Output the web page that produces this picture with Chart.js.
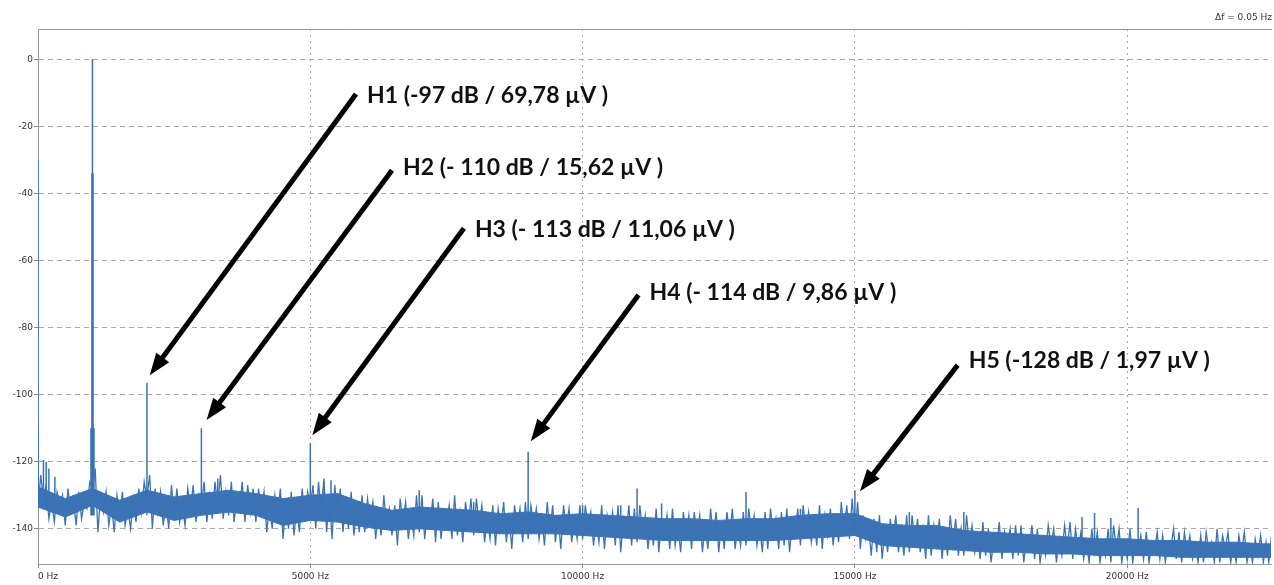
<!DOCTYPE html>
<html>
<head>
<meta charset="utf-8">
<title>Spectrum H1-H5</title>
<script src="https://cdn.jsdelivr.net/npm/chart.js@4.4.1/dist/chart.umd.min.js"></script>
<style>
  html, body { margin: 0; padding: 0; background: #fff; }
  canvas { display: block; }
</style>
</head>
<body>
<canvas id="spectrum" width="1274" height="585"></canvas>
<script>
// --- data ---
const xMaxHz = 22640;
const yMinDb = -150.5;
const yMaxDb = 9;
const xTickHz = [0, 5000, 10000, 15000, 20000];
const yTickDb = [-140, -120, -100, -80, -60, -40, -20, 0];

// noise floor, one value every 50 Hz
const noiseStepHz = 50;
const noiseDb = [
  -134,-124,-131,-127,-137,-132,-138,-129,-133,-130,-139,-128,-135,-131,-139,-129,-137,-132,-134,-126,
  -128,-122,-141,-130,-135,-129,-139,-133,-141,-130,-136,-129,-139,-134,-140,-131,-138,-128,-135,-126,
  -131,-124,-140,-128,-135,-129,-139,-132,-140,-127,-136,-128,-138,-133,-139,-128,-134,-127,-138,-130,
  -133,-126,-138,-130,-137,-126,-133,-124,-137,-129,-136,-126,-138,-131,-134,-126,-138,-127,-135,-128,
  -138,-128,-135,-129,-141,-133,-140,-130,-136,-128,-143,-131,-140,-129,-142,-134,-141,-128,-137,-129,
  -133,-127,-140,-126,-135,-125,-141,-130,-143,-127,-137,-128,-141,-132,-140,-129,-142,-134,-141,-130,
  -141,-131,-137,-132,-143,-135,-142,-130,-139,-134,-142,-133,-145,-131,-138,-132,-143,-136,-142,-130,
  -141,-130,-143,-135,-139,-131,-144,-132,-143,-136,-138,-133,-143,-130,-142,-135,-144,-132,-139,-131,
  -142,-131,-139,-133,-144,-137,-143,-133,-145,-134,-140,-132,-144,-136,-146,-133,-139,-134,-144,-132,
  -143,-133,-139,-134,-143,-137,-145,-132,-141,-133,-144,-136,-146,-133,-140,-134,-144,-137,-143,-133,
  -143,-133,-140,-135,-145,-138,-144,-133,-146,-136,-141,-135,-145,-133,-147,-137,-141,-133,-145,-134,
  -144,-133,-141,-136,-146,-138,-145,-134,-147,-137,-142,-136,-146,-134,-145,-139,-147,-135,-142,-136,
  -146,-135,-142,-136,-147,-139,-146,-134,-143,-135,-147,-138,-146,-135,-142,-134,-146,-139,-145,-135,
  -145,-134,-141,-136,-145,-139,-147,-135,-146,-134,-142,-137,-146,-135,-145,-134,-147,-138,-142,-134,
  -145,-133,-141,-135,-144,-138,-145,-133,-146,-136,-142,-134,-145,-137,-144,-132,-141,-133,-143,-131,
  -142,-132,-146,-136,-143,-139,-148,-137,-147,-136,-149,-140,-147,-137,-144,-136,-147,-140,-148,-136,
  -147,-136,-144,-137,-147,-140,-149,-136,-148,-139,-145,-137,-149,-141,-148,-136,-144,-137,-148,-140,
  -148,-136,-145,-139,-147,-142,-149,-138,-148,-140,-150,-143,-146,-138,-149,-141,-145,-140,-149,-139,
  -148,-139,-150,-143,-146,-139,-149,-140,-150,-144,-148,-139,-145,-140,-150,-143,-148,-139,-146,-138,
  -149,-140,-146,-141,-149,-144,-150,-140,-147,-141,-150,-144,-148,-140,-150,-139,-146,-140,-150,-144,
  -149,-140,-150,-144,-147,-142,-149,-141,-150,-145,-147,-141,-149,-142,-150,-144,-146,-140,-149,-141,
  -150,-141,-147,-142,-149,-145,-150,-142,-150,-141,-147,-144,-150,-140,-150,-142,-146,-141,-150,-145,
  -150,-142,-147,-141,-150,-145,-150,-143,-148,-142,-150,-144,-150,-142
];

// dense core of the noise band, every 500 Hz
const coreStepHz = 500;
const coreTopDb = [-127.5,-131,-128,-131.5,-128.5,-130.5,-129.5,-128.5,-129.5,-131,-130,-129.5,-132.5,-134.5,
  -133.5,-134,-134.5,-135.5,-135,-136,-135.5,-136,-136.5,-137,-137,-137.5,-137,-137,-136,-135.5,-135.5,
  -138.5,-139,-139,-140.5,-141,-141.5,-142,-142.5,-143,-143,-143.5,-143.5,-144,-144,-144.5,-144.5];
const coreBottomDb = [-133.5,-136.5,-133,-138,-135,-137.5,-136,-135,-136,-139,-137.5,-138,-139.5,-140.5,
  -140,-140.5,-141,-141.5,-141.5,-141.5,-142,-142.5,-143,-143.5,-143.5,-143.5,-143.5,-143.5,-143,-142.5,-142,
  -145,-145.5,-146,-146.5,-147,-147,-147.5,-147.5,-148,-148,-148,-148.5,-148.5,-148.5,-148.5,-148.5];

// spectral lines
const peakHz     = [0, 100, 150, 200, 310, 1000, 2000, 3000, 3300, 5000, 5250, 5380, 7000, 8000, 9000,
  10000, 10700, 11000, 11450, 13000, 14000, 15000, 16000, 17000, 19170, 19400, 19700, 20200];
const peakTopDb  = [-30, -119.5, -120, -122, -124.5, 0, -96.5, -110, -125, -114.5, -126, -125.5, -128.5, -132, -117,
  -133, -133, -128, -132.5, -129, -134, -128.5, -135, -135, -136.5, -135.3, -136.8, -133.8];
const peakBaseDb = [-134, -133, -134, -134, -134, -136, -136, -136, -134, -137, -137, -137, -140, -141, -141,
  -141, -142, -142, -143, -143, -142, -141, -145, -146, -147, -147, -147, -147];

// broader foot of the strongest lines
const thickHz     = [0, 1000, 1000];
const thickBaseDb = [-134, -136, -136];
const thickTopDb  = [-110, -34, -110];
const thickWidth  = [2, 2.5, 4.5];

// harmonic call-outs: tail of arrow (label side) and tip (at the line)
const noteText   = ['H1 (-97 dB / 69,78 µV )', 'H2 (- 110 dB / 15,62 µV )', 'H3 (- 113 dB / 11,06 µV )',
  'H4 (- 114 dB / 9,86 µV )', 'H5 (-128 dB / 1,97 µV )'];
const noteTailHz = [5840, 6500, 7820, 11026, 16887];
const noteTailDb = [-10.4, -33.1, -50.4, -70.3, -91.2];
const noteTipHz  = [2051, 3095, 5037, 9048, 15092];
const noteTipDb  = [-94.2, -107.6, -112.1, -113.9, -128.8];
const noteDy     = [2, -3, 1, -2, -5];

const blue = '#3b73b5';

function stepSeries(stepHz, values) {
  return values.map((db, i) => ({ x: i * stepHz, y: db }));
}

function segmentSeries(hz, fromDb, toDb) {
  const pts = [];
  hz.forEach((f, i) => {
    pts.push({ x: f, y: fromDb[i] }, { x: f, y: toDb[i] }, { x: f, y: null });
  });
  return pts;
}

const thickSets = thickHz.map((f, i) => ({
  data: segmentSeries([f], [thickBaseDb[i]], [thickTopDb[i]]),
  borderColor: blue,
  borderWidth: thickWidth[i],
  pointRadius: 0,
  spanGaps: false,
  fill: false
}));

const arrowPlugin = {
  id: 'arrows',
  afterDatasetsDraw(chart) {
    const ctx = chart.ctx;
    const xs = chart.scales.x, ys = chart.scales.y;
    ctx.save();
    noteText.forEach((text, i) => {
      const x1 = xs.getPixelForValue(noteTailHz[i]);
      const y1 = ys.getPixelForValue(noteTailDb[i]);
      const x2 = xs.getPixelForValue(noteTipHz[i]);
      const y2 = ys.getPixelForValue(noteTipDb[i]);
      const ang = Math.atan2(y2 - y1, x2 - x1);
      const headLen = 22, headHalf = 8;
      const bx = x2 - headLen * Math.cos(ang);
      const by = y2 - headLen * Math.sin(ang);
      ctx.strokeStyle = '#000';
      ctx.lineWidth = 5;
      ctx.lineCap = 'butt';
      ctx.beginPath();
      ctx.moveTo(x1, y1);
      ctx.lineTo(bx + 2 * Math.cos(ang), by + 2 * Math.sin(ang));
      ctx.stroke();
      ctx.fillStyle = '#000';
      ctx.beginPath();
      ctx.moveTo(x2, y2);
      ctx.lineTo(bx - headHalf * Math.sin(ang), by + headHalf * Math.cos(ang));
      ctx.lineTo(bx + headHalf * Math.sin(ang), by - headHalf * Math.cos(ang));
      ctx.closePath();
      ctx.fill();

      ctx.font = 'bold 23px Lato';
      ctx.textAlign = 'left';
      ctx.textBaseline = 'middle';
      ctx.fillStyle = '#111';
      ctx.fillText(text, x1 + 11, y1 + noteDy[i]);
    });

    ctx.font = '9px "DejaVu Sans"';
    ctx.textAlign = 'right';
    ctx.textBaseline = 'alphabetic';
    ctx.fillStyle = '#333';
    ctx.fillText('\u0394f = 0.05 Hz', chart.width - 2, 20);
    ctx.restore();
  }
};

const tickFont = { family: 'DejaVu Sans', size: 9 };
const gridGrey = '#a8a8a8';

new Chart(document.getElementById('spectrum'), {
  type: 'line',
  data: {
    datasets: [
      {
        data: segmentSeries(peakHz, peakBaseDb, peakTopDb),
        borderColor: blue, borderWidth: 1.5, pointRadius: 0, spanGaps: false, fill: false
      },
      ...thickSets,
      {
        data: stepSeries(noiseStepHz, noiseDb),
        borderColor: blue, borderWidth: 1.3, pointRadius: 0, tension: 0, fill: false
      },
      {
        data: stepSeries(coreStepHz, coreTopDb),
        borderColor: blue, borderWidth: 1, backgroundColor: blue, pointRadius: 0, fill: '+1'
      },
      {
        data: stepSeries(coreStepHz, coreBottomDb),
        borderColor: blue, borderWidth: 1, pointRadius: 0, fill: false
      }
    ]
  },
  options: {
    responsive: false,
    animation: false,
    parsing: false,
    normalized: true,
    layout: { padding: { top: 29, right: 0, left: 0, bottom: 0 } },
    plugins: { legend: { display: false }, tooltip: { enabled: false } },
    scales: {
      x: {
        type: 'linear', min: 0, max: xMaxHz,
        afterBuildTicks: s => { s.ticks = xTickHz.concat([xMaxHz]).map(v => ({ value: v })); },
        ticks: {
          align: 'inner', maxRotation: 0, autoSkip: false,
          font: tickFont, color: '#333', padding: 3,
          callback: v => (v >= xMaxHz ? '' : v + ' Hz')
        },
        grid: {
          color: c => (c.tick && c.tick.value >= xMaxHz ? 'rgba(0,0,0,0)' : gridGrey),
          tickColor: c => (c.tick && c.tick.value >= xMaxHz ? 'rgba(0,0,0,0)' : '#888'),
          tickLength: 4
        },
        border: { color: '#999', dash: [2, 4] },
        afterFit: s => { s.height = 21; }
      },
      xTop: {
        type: 'linear', position: 'top', min: 0, max: xMaxHz,
        ticks: { display: false },
        grid: { display: false, drawTicks: false },
        border: { color: '#999' },
        afterFit: s => { s.height = 0; }
      },
      y: {
        min: yMinDb, max: yMaxDb,
        afterBuildTicks: s => { s.ticks = yTickDb.map(v => ({ value: v })); },
        ticks: { font: tickFont, color: '#333', padding: 1 },
        grid: { color: gridGrey, tickColor: '#888', tickLength: 4 },
        border: { color: '#999', dash: [5, 4] },
        afterFit: s => { s.width = 38; }
      }
    }
  },
  plugins: [arrowPlugin]
});
</script>
</body>
</html>
